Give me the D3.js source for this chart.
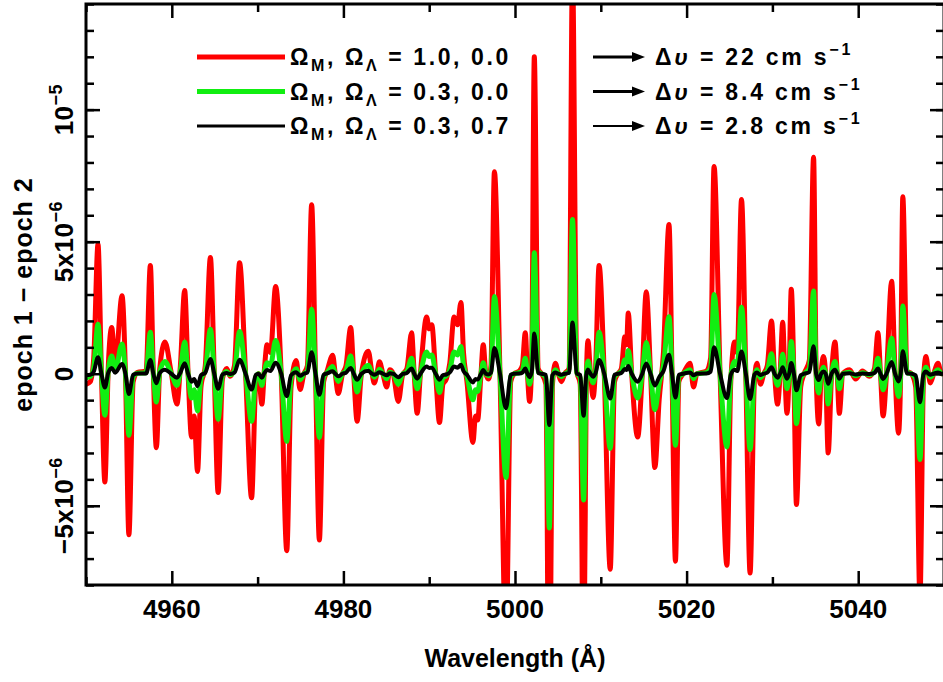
<!DOCTYPE html>
<html>
<head>
<meta charset="utf-8">
<script src="https://cdn.jsdelivr.net/npm/d3@7"></script>
<style>
  body { margin: 0; background: #fff; }
  text { font-family: "Liberation Sans", Arial, sans-serif; font-weight: bold; fill: #000; white-space: pre; }
</style>
</head>
<body>
<div id="chart"></div>
<script>
// wavelength in Angstrom
var wavelength = [
  4950.0, 4950.5, 4950.9, 4951.4, 4951.8, 4952.2, 4952.6, 4953.0, 4953.4, 4954.2,
  4954.6, 4955.0, 4955.5, 4956.0, 4957.0, 4957.5, 4957.85, 4958.2, 4958.6, 4959.2,
  4959.9, 4960.6, 4961.0, 4961.5, 4961.9, 4962.3, 4962.6, 4963.0, 4963.4, 4963.9,
  4964.5, 4964.95, 4965.4, 4965.9, 4966.4, 4966.8, 4967.3, 4967.9, 4968.6, 4969.3,
  4969.8, 4970.1, 4970.5, 4970.8, 4971.1, 4971.5, 4972.1, 4972.75, 4973.4, 4973.9,
  4974.5, 4974.95, 4975.4, 4975.8, 4976.3, 4976.75, 4977.2, 4977.7, 4978.1, 4978.75,
  4979.05, 4979.4, 4979.9, 4980.3, 4980.85, 4981.2, 4981.6, 4982.1, 4982.9, 4983.3,
  4983.6, 4983.9, 4984.2, 4984.6, 4985.05, 4985.4, 4985.8, 4986.4, 4986.9, 4987.4,
  4987.95, 4988.25, 4988.6, 4989.0, 4989.7, 4990.0, 4990.3, 4990.75, 4991.2, 4991.6,
  4992.0, 4992.4, 4992.9, 4993.3, 4993.7, 4994.0, 4994.4, 4995.1, 4995.4, 4995.65,
  4996.0, 4996.3, 4996.6, 4996.9, 4997.2, 4997.6, 4998.25, 4998.95, 4999.5, 4999.9,
  5000.5, 5000.85, 5001.2, 5001.45, 5001.7, 5001.95, 5002.25, 5002.7, 5003.1, 5003.6,
  5004.0, 5004.35, 5004.7, 5005.05, 5005.4, 5005.8, 5006.3, 5006.7, 5007.2, 5007.6,
  5008.0, 5008.3, 5008.5, 5008.8, 5009.1, 5009.4, 5009.8, 5010.4, 5011.1, 5011.6,
  5012.0, 5012.4, 5012.8, 5013.0, 5013.2, 5013.6, 5014.3, 5014.8, 5015.3, 5015.8,
  5016.3, 5016.8, 5017.3, 5017.95, 5018.3, 5018.7, 5019.1, 5019.6, 5020.4, 5020.8,
  5021.2, 5022.3, 5022.8, 5023.2, 5023.9, 5024.7, 5025.15, 5025.6, 5025.9, 5026.4,
  5026.9, 5027.4, 5027.9, 5028.2, 5028.6, 5029.0, 5029.4, 5029.9, 5030.25, 5030.6,
  5030.9, 5031.2, 5031.45, 5031.7, 5031.95, 5032.2, 5032.5, 5032.8, 5033.3, 5033.7,
  5034.3, 5034.8, 5035.1, 5035.4, 5035.7, 5035.95, 5036.2, 5036.5, 5036.9, 5037.3,
  5037.55, 5037.8, 5038.2, 5039.0, 5039.7, 5040.5, 5041.3, 5041.9, 5042.3, 5042.6,
  5042.9, 5043.3, 5043.9, 5044.3, 5044.7, 5044.95, 5045.2, 5045.7, 5046.2, 5046.7,
  5047.2, 5047.6, 5047.9, 5048.2, 5048.4, 5048.8, 5049.3, 5049.7, 5050.0
];

// epoch 1 - epoch 2, in units of 1e-6
var diffRed = [
  -0.4, -0.3, 0.6, 4.9, 0, -4.1, 0.3, 1.75, 0.3, 2.95,
  0, -6.1, -0.3, 0.05, 0.1, 4.1, 0, -2.8, 0.2, 1.2,
  0.1, -1.15, 0.3, 3.15, 0, -2.4, -1.6, -3.7, -0.5, 0.3,
  4.4, 0, -4.5, -0.2, 0.2, -0.1, 0.3, 4.2, 0, -4.7,
  -0.3, 0, -1.15, 0.2, 1.1, 0.8, 3.3, 0, -6.7, -0.5,
  0.5, -0.6, 0, 0.3, 6.4, 0, -6.3, -0.3, 0.1, 0.7,
  0, -0.75, 0, 0.3, 1.75, 0, -1.8, 0, 0.85, 0.1,
  -0.35, 0, 0.45, 0, -0.5, 0.15, 0, -1.05, -0.05, 0.2,
  1.55, 0, -1.5, 0.1, 2.15, 1.7, 1.85, 0, -1.85, -0.4,
  -0.2, 0.4, 2.15, 1.85, 2.7, 0.8, -0.3, -2.6, -1.6, -1.75,
  -0.2, 1.1, 0, -0.2, 0.3, 7.65, 0, -10.3, -0.3, 0,
  0.1, 0.3, 1.55, 0, -1.05, 0.5, 12.0, 0.2, 0, -0.4,
  -15.3, -0.5, 0.4, 0, -0.3, 0, 0.2, 15.3, 0.1, -0.4,
  -12.5, -0.5, 1.25, 0, -0.9, 0.3, 4.1, 0, -7.4, -0.3,
  0, 0.2, 1.4, 1.1, 2.3, 0, -2.4, -0.2, 3.1, 0,
  -3.55, -1.0, 0.8, 5.65, 0, -7.1, -0.3, 0, 0.4, -0.5,
  0, 0.1, 0.6, 7.85, 0, -7.25, -0.3, 1.2, 0.8, 6.6,
  0, -7.55, -0.3, 0.4, -0.4, 0, 0.3, 2.0, 0, -1.15,
  0, 1.95, 0, -1.5, 0, 3.2, 0, -4.95, -0.5, 0,
  0.5, 8.2, 0, -1.9, 0.1, 0.65, 0, -3.0, 0, 1.2,
  0, -1.5, 0, 0.15, -0.2, 0.1, -0.1, 0.2, 1.55, 0,
  -1.6, 0, 3.5, 0, -2.25, 0, 6.7, 0.1, 0, -0.5,
  -8.5, -0.3, 0.65, 0, -0.35, 0, 0.4, 0, 0
];

var diffGreen = [
  -0.15, -0.11, 0.23, 1.87, 0, -1.57, 0.11, 0.67, 0.11, 1.13,
  0, -2.33, -0.11, 0.02, 0.04, 1.57, 0, -1.07, 0.08, 0.46,
  0.04, -0.44, 0.11, 1.2, 0, -0.92, -0.61, -1.41, -0.19, 0.11,
  1.68, 0, -1.72, -0.08, 0.08, -0.04, 0.11, 1.6, 0, -1.8,
  -0.11, 0, -0.44, 0.08, 0.42, 0.31, 1.26, 0, -2.56, -0.19,
  0.19, -0.23, 0, 0.11, 2.44, 0, -2.41, -0.11, 0.04, 0.27,
  0, -0.29, 0, 0.11, 0.67, 0, -0.69, 0, 0.32, 0.04,
  -0.13, 0, 0.17, 0, -0.19, 0.06, 0, -0.4, -0.02, 0.08,
  0.59, 0, -0.57, 0.04, 0.82, 0.65, 0.71, 0, -0.71, -0.15,
  -0.08, 0.15, 0.82, 0.71, 1.03, 0.31, -0.11, -0.99, -0.61, -0.67,
  -0.08, 0.42, 0, -0.08, 0.11, 2.92, 0, -3.93, -0.11, 0,
  0.04, 0.11, 0.59, 0, -0.4, 0.19, 4.58, 0.08, 0, -0.15,
  -5.84, -0.19, 0.15, 0, -0.11, 0, 0.08, 5.84, 0.04, -0.15,
  -4.78, -0.19, 0.48, 0, -0.34, 0.11, 1.57, 0, -2.83, -0.11,
  0, 0.08, 0.53, 0.42, 0.88, 0, -0.92, -0.08, 1.18, 0,
  -1.36, -0.38, 0.31, 2.16, 0, -2.71, -0.11, 0, 0.15, -0.19,
  0, 0.04, 0.23, 3.0, 0, -2.77, -0.11, 0.46, 0.31, 2.52,
  0, -2.88, -0.11, 0.15, -0.15, 0, 0.11, 0.76, 0, -0.44,
  0, 0.74, 0, -0.57, 0, 1.22, 0, -1.89, -0.19, 0,
  0.19, 3.13, 0, -0.73, 0.04, 0.25, 0, -1.15, 0, 0.46,
  0, -0.57, 0, 0.06, -0.08, 0.04, -0.04, 0.08, 0.59, 0,
  -0.61, 0, 1.34, 0, -0.86, 0, 2.56, 0.04, 0, -0.19,
  -3.25, -0.11, 0.25, 0, -0.13, 0, 0.15, 0, 0
];

var diffBlack = [
  -0.05, -0.04, 0.08, 0.62, 0, -0.52, 0.04, 0.22, 0.04, 0.37,
  0, -0.77, -0.04, 0.01, 0.01, 0.52, 0, -0.36, 0.03, 0.15,
  0.01, -0.15, 0.04, 0.4, 0, -0.3, -0.2, -0.47, -0.06, 0.04,
  0.56, 0, -0.57, -0.03, 0.03, -0.01, 0.04, 0.53, 0, -0.6,
  -0.04, 0, -0.15, 0.03, 0.14, 0.1, 0.42, 0, -0.85, -0.06,
  0.06, -0.08, 0, 0.04, 0.81, 0, -0.8, -0.04, 0.01, 0.09,
  0, -0.1, 0, 0.04, 0.22, 0, -0.23, 0, 0.11, 0.01,
  -0.04, 0, 0.06, 0, -0.06, 0.02, 0, -0.13, -0.01, 0.03,
  0.2, 0, -0.19, 0.01, 0.27, 0.22, 0.23, 0, -0.23, -0.05,
  -0.03, 0.05, 0.27, 0.23, 0.34, 0.1, -0.04, -0.33, -0.2, -0.22,
  -0.03, 0.14, 0, -0.03, 0.04, 0.97, 0, -1.31, -0.04, 0,
  0.01, 0.04, 0.2, 0, -0.13, 0.06, 1.52, 0.03, 0, -0.05,
  -1.94, -0.06, 0.05, 0, -0.04, 0, 0.03, 1.94, 0.01, -0.05,
  -1.59, -0.06, 0.16, 0, -0.11, 0.04, 0.52, 0, -0.94, -0.04,
  0, 0.03, 0.18, 0.14, 0.29, 0, -0.3, -0.03, 0.39, 0,
  -0.45, -0.13, 0.1, 0.72, 0, -0.9, -0.04, 0, 0.05, -0.06,
  0, 0.01, 0.08, 1.0, 0, -0.92, -0.04, 0.15, 0.1, 0.84,
  0, -0.96, -0.04, 0.05, -0.05, 0, 0.04, 0.25, 0, -0.15,
  0, 0.25, 0, -0.19, 0, 0.41, 0, -0.63, -0.06, 0,
  0.06, 1.04, 0, -0.24, 0.01, 0.08, 0, -0.38, 0, 0.15,
  0, -0.19, 0, 0.02, -0.03, 0.01, -0.01, 0.03, 0.2, 0,
  -0.2, 0, 0.44, 0, -0.29, 0, 0.85, 0.01, 0, -0.06,
  -1.08, -0.04, 0.08, 0, -0.04, 0, 0.05, 0, 0
];

var modelLabels = ["1.0, 0.0", "0.3, 0.0", "0.3, 0.7"];
var shiftLabels = ["22", "8.4", "2.8"];
var seriesColors = ["#ff0000", "#11ee11", "#000000"];
var xMajorTicks = [4960, 4980, 5000, 5020, 5040];
var xMinorTicks = [4950, 4970, 4990, 5010, 5030, 5050];
var yMajorTicks = [-5, 0, 5, 10];
var yTickBase = ["\u22125x10", "0", "5x10", "10"];
var yTickExp = ["\u22126", "", "\u22126", "\u22125"];

var W = 943, H = 682;
var margin = {top: 4, right: -1, bottom: 97, left: 86},
    width = W - margin.left - margin.right,
    height = H - margin.top - margin.bottom;

var x = d3.scaleLinear().domain([4950, 5050]).range([0, width]);
var y = d3.scaleLinear().domain([-8, 14]).range([height, 0]);

var svg = d3.select("#chart").append("svg")
    .attr("width", W)
    .attr("height", H);

svg.append("defs").append("clipPath")
    .attr("id", "clip")
  .append("rect")
    .attr("width", width)
    .attr("height", height);

var g = svg.append("g")
    .attr("transform", "translate(" + margin.left + "," + margin.top + ")");

var series = [diffRed, diffGreen, diffBlack];
var lineWidths = [5, 5, 4];

var line = d3.line()
    .curve(d3.curveMonotoneX)
    .x(function(d) { return x(d[0]); })
    .y(function(d) { return y(d[1]); });

series.forEach(function(vals, i) {
  var pts = wavelength.map(function(w, j) { return [w, vals[j]]; });
  g.append("path")
      .attr("d", line(pts))
      .attr("fill", "none")
      .attr("stroke", seriesColors[i])
      .attr("stroke-width", lineWidths[i])
      .attr("stroke-linejoin", "round")
      .attr("clip-path", "url(#clip)");
});

// ticks on all four sides, pointing inward
function tickAxis(axis, vals, size, tr) {
  var a = g.append("g")
      .attr("transform", tr || null)
      .call(axis.tickValues(vals).tickSize(-size).tickSizeOuter(0).tickFormat(""));
  a.select(".domain").remove();
  a.selectAll("line").attr("stroke", "#000").attr("stroke-width", 2.5);
  return a;
}
tickAxis(d3.axisBottom(x), xMajorTicks, 14, "translate(0," + height + ")");
tickAxis(d3.axisBottom(x), xMinorTicks, 8, "translate(0," + height + ")");
tickAxis(d3.axisTop(x), xMajorTicks, 14);
tickAxis(d3.axisTop(x), xMinorTicks, 8);
tickAxis(d3.axisLeft(y), yMajorTicks, 14);
tickAxis(d3.axisLeft(y), d3.range(-8, 15), 8);
tickAxis(d3.axisRight(y), yMajorTicks, 14, "translate(" + width + ",0)");
tickAxis(d3.axisRight(y), d3.range(-8, 15), 8, "translate(" + width + ",0)");

g.append("rect")
    .attr("width", width)
    .attr("height", height)
    .attr("fill", "none")
    .attr("stroke", "#000")
    .attr("stroke-width", 3);

// x tick labels
g.selectAll(".xlab")
    .data(xMajorTicks)
  .enter().append("text")
    .attr("x", function(d) { return x(d); })
    .attr("y", height + 33)
    .attr("text-anchor", "middle")
    .style("font-size", "26px")
    .text(function(d) { return d; });

// y tick labels, rotated
yMajorTicks.forEach(function(v, i) {
  var t = g.append("text")
      .attr("transform", "translate(-13," + y(v) + ") rotate(-90)")
      .attr("text-anchor", "middle")
      .style("font-size", "26px")
      .style("letter-spacing", "0.5px");
  t.append("tspan").text(yTickBase[i]);
  if (yTickExp[i]) {
    t.append("tspan").attr("dy", -11).style("font-size", "18px").text(yTickExp[i]);
  }
});

// axis titles
svg.append("text")
    .attr("x", margin.left + x(5000))
    .attr("y", 667)
    .attr("text-anchor", "middle")
    .style("font-size", "25px")
    .text("Wavelength (\u00c5)");

svg.append("text")
    .attr("transform", "translate(32," + (margin.top + height / 2) + ") rotate(-90)")
    .attr("text-anchor", "middle")
    .style("font-size", "25px")
    .style("letter-spacing", "1px")
    .text("epoch 1 \u2212 epoch 2");

// legend
var legendWidths = [5, 5, 3];
var arrowWidths = [3, 3, 2];
modelLabels.forEach(function(lab, i) {
  var ly = 57 + i * 34.5;
  svg.append("line")
      .attr("x1", 197).attr("x2", 285)
      .attr("y1", ly).attr("y2", ly)
      .attr("stroke", seriesColors[i])
      .attr("stroke-width", legendWidths[i]);

  var t = svg.append("text")
      .attr("x", 290)
      .attr("y", ly + 8)
      .style("font-size", "23px")
      .style("letter-spacing", "2.6px");
  t.append("tspan").text("\u03a9");
  t.append("tspan").attr("dy", 6).style("font-size", "16px").text("M");
  t.append("tspan").attr("dy", -6).text(", \u03a9");
  t.append("tspan").attr("dy", 6).style("font-size", "16px").text("\u039b");
  t.append("tspan").attr("dy", -6).text(" = " + lab);

  svg.append("line")
      .attr("x1", 593).attr("x2", 636)
      .attr("y1", ly).attr("y2", ly)
      .attr("stroke", "#000")
      .attr("stroke-width", arrowWidths[i]);
  svg.append("path")
      .attr("d", "M" + 632 + "," + (ly - 5) + "L" + 645 + "," + ly + "L" + 632 + "," + (ly + 5) + "Z")
      .attr("fill", "#000");

  var s = svg.append("text")
      .attr("x", 655)
      .attr("y", ly + 8)
      .style("font-size", "23px")
      .style("letter-spacing", "2.8px");
  s.append("tspan").text("\u0394");
  s.append("tspan").style("font-style", "italic").text("\u03c5");
  s.append("tspan").text(" = " + shiftLabels[i] + " cm s");
  s.append("tspan").attr("dy", -10).style("font-size", "16px").text("\u22121");
});
</script>
</body>
</html>
